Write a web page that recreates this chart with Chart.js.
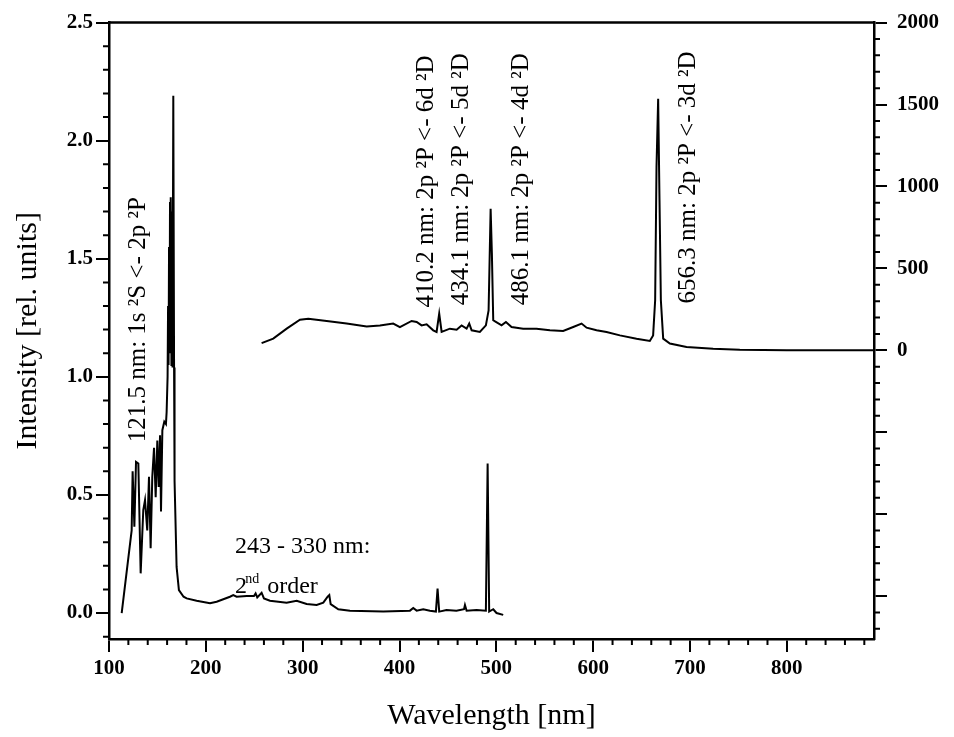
<!DOCTYPE html>
<html><head><meta charset="utf-8">
<script src="https://cdn.jsdelivr.net/npm/chart.js@4.4.1/dist/chart.umd.min.js"></script>
<style>html,body{margin:0;padding:0;background:#fff;}#wrap{width:954px;height:737px;}</style>
</head><body><div id="wrap"><canvas id="c" width="954" height="737"></canvas></div>
<script>
// VUV spectrum (left axis, rel. units)
const vuvWavelength = [113.1,123.4,124.4,126.2,127.9,130.3,132.7,135.4,137.2,139.5,141.3,143.0,144.7,146.5,148.2,149.9,151.3,152.7,153.7,155.1,157.1,158.8,159.5,160.5,161.0,161.5,162.0,162.5,163.0,163.5,164.0,164.5,165.0,165.6,166.4,167.2,167.7,169.8,172.2,177.0,180.2,190.5,204.3,211.2,224.9,228.3,231.8,242.2,249.7,251.4,253.1,257.6,260.0,266.2,283.4,293.8,304.1,314.4,321.3,325.8,327.5,328.9,336.8,348.8,383.2,410.8,414.2,417.7,424.5,431.4,437.6,439.3,441.0,448.5,458.8,466.6,467.6,469.3,479.6,489.2,491.0,492.6,496.8,500.2,507.1];
const vuvIntensity  = [0.0,0.35,0.60,0.365,0.64,0.633,0.168,0.436,0.478,0.35,0.577,0.274,0.577,0.70,0.49,0.73,0.534,0.753,0.43,0.774,0.81,0.80,0.85,1.00,1.30,1.05,1.55,1.10,1.74,1.15,1.76,1.05,1.70,1.04,2.19,1.04,0.56,0.195,0.097,0.069,0.062,0.052,0.041,0.048,0.069,0.076,0.069,0.072,0.072,0.083,0.066,0.086,0.062,0.052,0.044,0.052,0.038,0.034,0.044,0.069,0.076,0.038,0.016,0.010,0.006,0.010,0.021,0.010,0.016,0.010,0.006,0.104,0.006,0.013,0.010,0.016,0.034,0.010,0.013,0.010,0.633,0.006,0.016,0.0,-0.008];
// Visible spectrum (right axis)
const visWavelength = [257.6,269.6,283.5,297.2,305.8,324.8,345.4,366.1,379.8,393.5,400.4,412.5,417.7,422.8,428.0,434.8,438.3,441.0,443.5,452.0,459.0,464.1,469.3,472.0,474.5,483.0,489.2,492.0,494.1,495.4,496.8,499.5,505.4,509.9,515.7,527.7,541.5,555.3,569.0,579.4,588.0,593.2,603.5,613.8,627.6,644.8,658.5,661.9,664.0,665.4,667.1,668.5,669.9,672.3,679.2,696.4,723.9,751.4,800.0,889.8];
const visIntensity  = [44,71,132,187,193,179,163,146,152,163,142,179,173,152,159,122,112,224,112,132,126,152,132,163,122,112,152,244,864,590,183,173,152,173,142,132,132,122,118,142,163,138,122,112,91,71,57,91,305,1118,1535,915,305,71,41,20,10,4,1,0];
// Tick values
const xTickValues = [100,200,300,400,500,600,700,800];
const leftTickValues = [0,0.5,1.0,1.5,2.0,2.5];
const rightTickValues = [-1500,-1000,-500,0,500,1000,1500,2000];
// Annotation texts
const lineLabels = ["121.5 nm: 1s \u00B2S <- 2p \u00B2P","410.2 nm: 2p \u00B2P <- 6d \u00B2D","434.1 nm: 2p \u00B2P <- 5d \u00B2D","486.1 nm: 2p \u00B2P <- 4d \u00B2D","656.3 nm: 2p \u00B2P <- 3d \u00B2D"];
const orderLabel1 = "243 - 330 nm:";
const orderLabel2 = ["2","nd"," order"];

const annot = {
  rotX: [137.2,434.5,470.6,532.6,705.0],
  rotY: [0.723,1.294,1.303,1.303,1.311],
  hX: 230.1, hY1: 0.254, hY2: 0.085
};

Chart.defaults.font.family = "'Liberation Serif', 'Times New Roman', serif";
Chart.defaults.color = '#000';

const FONT = "'Liberation Serif', 'Times New Roman', serif";

const extrasPlugin = {
  id: 'extras',
  afterDraw(chart) {
    const ctx = chart.ctx, ca = chart.chartArea;
    const sx = chart.scales.x, sy = chart.scales.y, sy2 = chart.scales.y2;
    ctx.save();
    ctx.strokeStyle = '#000'; ctx.fillStyle = '#000';
    // top frame
    ctx.lineWidth = 2.5;
    ctx.beginPath(); ctx.moveTo(ca.left, ca.top); ctx.lineTo(ca.right, ca.top); ctx.stroke();
    // minor ticks
    ctx.lineWidth = 2;
    const ml = 6;
    ctx.beginPath();
    for (let v = 120; v <= 880; v += 20) {
      if (v % 100 === 0) continue;
      const p = sx.getPixelForValue(v);
      ctx.moveTo(p, ca.bottom); ctx.lineTo(p, ca.bottom + ml);
    }
    for (let i = -1; i <= 24; i++) {
      if (i % 5 === 0) continue;
      const p = sy.getPixelForValue(i / 10);
      ctx.moveTo(ca.left, p); ctx.lineTo(ca.left - ml, p);
    }
    for (let v = -1700; v <= 1900; v += 100) {
      if (v % 500 === 0) continue;
      const p = sy2.getPixelForValue(v);
      ctx.moveTo(ca.right, p); ctx.lineTo(ca.right + ml, p);
    }
    ctx.stroke();
    // rotated line labels
    ctx.font = '25px ' + FONT;
    ctx.textAlign = 'left'; ctx.textBaseline = 'alphabetic';
    lineLabels.forEach((t, i) => {
      const px = sx.getPixelForValue(annot.rotX[i]);
      const py = sy.getPixelForValue(annot.rotY[i]);
      ctx.save(); ctx.translate(px, py); ctx.rotate(-Math.PI / 2);
      ctx.fillText(t, 0, 0);
      ctx.restore();
    });
    // horizontal labels
    ctx.font = '24px ' + FONT;
    const hx = sx.getPixelForValue(annot.hX);
    ctx.fillText(orderLabel1, hx, sy.getPixelForValue(annot.hY1));
    const by = sy.getPixelForValue(annot.hY2);
    ctx.fillText(orderLabel2[0], hx, by);
    const w2 = ctx.measureText(orderLabel2[0]).width;
    ctx.font = '14px ' + FONT;
    ctx.fillText(orderLabel2[1], hx + w2 * 0.85, by - 10);
    const wnd = ctx.measureText(orderLabel2[1]).width;
    ctx.font = '24px ' + FONT;
    ctx.fillText(orderLabel2[2], hx + w2 * 0.85 + wnd + 2, by);
    ctx.restore();
  }
};

const tickFont = {family: FONT, size: 21, weight: 'bold'};
const gridOpts = {display: true, drawOnChartArea: false, drawTicks: true, tickLength: 13, color: '#000', lineWidth: 2};
const borderOpts = {display: true, color: '#000', width: 2.5};

new Chart(document.getElementById('c'), {
  type: 'line',
  data: {
    datasets: [
      {data: vuvWavelength.map((w, i) => ({x: w, y: vuvIntensity[i]})), yAxisID: 'y', borderColor: '#000', borderWidth: 2, pointRadius: 0, tension: 0, fill: false},
      {data: visWavelength.map((w, i) => ({x: w, y: visIntensity[i]})), yAxisID: 'y2', borderColor: '#000', borderWidth: 2, pointRadius: 0, tension: 0, fill: false}
    ]
  },
  options: {
    responsive: false, animation: false, devicePixelRatio: 1,
    layout: {padding: {top: 22, left: 0, right: 0, bottom: 0}},
    plugins: {legend: {display: false}, tooltip: {enabled: false}},
    scales: {
      x: {
        type: 'linear', position: 'bottom', min: 100, max: 890,
        afterBuildTicks: s => { s.ticks = xTickValues.map(v => ({value: v})); },
        afterFit: s => { s.height = 98; },
        ticks: {font: tickFont, padding: 4, maxRotation: 0, autoSkip: false, callback: v => String(v)},
        grid: gridOpts, border: borderOpts,
        title: {display: true, text: 'Wavelength [nm]', font: {family: FONT, size: 30}, padding: {top: 0, bottom: 3}}
      },
      y: {
        type: 'linear', position: 'left', min: -0.11, max: 2.5,
        afterBuildTicks: s => { s.ticks = leftTickValues.map(v => ({value: v})); },
        afterFit: s => { s.width = 109; },
        ticks: {font: tickFont, padding: 3, autoSkip: false, callback: v => Number(v).toFixed(1)},
        grid: gridOpts, border: borderOpts,
        title: {display: true, text: 'Intensity [rel. units]', font: {family: FONT, size: 30}, padding: {top: 10, bottom: 0}}
      },
      y2: {
        type: 'linear', position: 'right', min: -1762, max: 2000,
        afterBuildTicks: s => { s.ticks = rightTickValues.map(v => ({value: v})); },
        afterFit: s => { s.width = 80; },
        ticks: {font: tickFont, padding: 10, autoSkip: false, callback: v => (v >= 0 ? String(v) : '')},
        grid: gridOpts, border: borderOpts
      }
    }
  },
  plugins: [extrasPlugin]
});
</script></body></html>
